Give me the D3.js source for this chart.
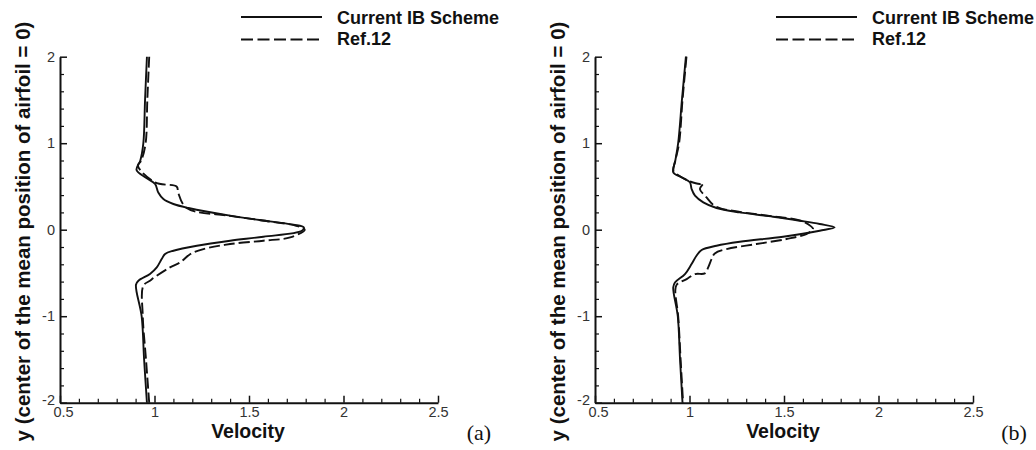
<!DOCTYPE html>
<html>
<head>
<meta charset="utf-8">
<script src="https://cdn.jsdelivr.net/npm/d3@7/dist/d3.min.js"></script>
<style>
  html, body { margin: 0; padding: 0; background: #fff; }
  svg { display: block; }
</style>
</head>
<body>
<svg id="chart" width="1036" height="450"></svg>
<script>
// Velocity profiles across the wake, two instants (a) and (b).
// Each point is [velocity, y].
const currentA = [
  [0.960, 2.00], [0.950, 1.50], [0.941, 1.00], [0.925, 0.80], [0.905, 0.69],
  [0.955, 0.60], [1.003, 0.53], [1.020, 0.43], [1.047, 0.355], [1.100, 0.297],
  [1.180, 0.251], [1.400, 0.162], [1.610, 0.096], [1.735, 0.058], [1.790, 0.027],
  [1.780, -0.012], [1.576, -0.081], [1.400, -0.127], [1.224, -0.185], [1.100, -0.243],
  [1.056, -0.281], [1.038, -0.339], [1.012, -0.436], [0.976, -0.512], [0.915, -0.590],
  [0.902, -0.636], [0.932, -1.00], [0.945, -1.50], [0.960, -2.00]
];
const refA = [
  [0.972, 2.00], [0.962, 1.50], [0.953, 1.00], [0.930, 0.80], [0.912, 0.74],
  [1.003, 0.547], [1.118, 0.497], [1.125, 0.430], [1.170, 0.250], [1.400, 0.160],
  [1.610, 0.095], [1.750, 0.045], [1.795, 0.000], [1.718, -0.089], [1.576, -0.127],
  [1.400, -0.166], [1.259, -0.224], [1.190, -0.281], [1.136, -0.378], [1.082, -0.436],
  [1.000, -0.550], [0.976, -0.590], [0.941, -0.647], [0.938, -1.00], [0.955, -1.50],
  [0.972, -2.00]
];
const currentB = [
  [0.981, 2.00], [0.960, 1.50], [0.940, 1.00], [0.925, 0.80], [0.914, 0.663],
  [0.958, 0.606], [1.002, 0.548], [1.011, 0.471], [1.029, 0.393], [1.073, 0.316],
  [1.143, 0.251], [1.266, 0.200], [1.442, 0.150], [1.583, 0.104], [1.689, 0.066],
  [1.768, 0.027], [1.689, -0.012], [1.495, -0.081], [1.266, -0.139], [1.143, -0.185],
  [1.064, -0.235], [1.037, -0.301], [1.011, -0.397], [0.976, -0.513], [0.923, -0.611],
  [0.914, -0.667], [0.938, -1.00], [0.950, -1.50], [0.963, -2.00]
];
const refB = [
  [0.984, 2.00], [0.963, 1.50], [0.945, 1.00], [0.925, 0.80], [0.915, 0.680],
  [0.932, 0.644], [0.993, 0.567], [1.055, 0.528], [1.073, 0.536], [1.055, 0.471],
  [1.090, 0.374], [1.125, 0.289], [1.160, 0.250], [1.266, 0.205], [1.442, 0.155],
  [1.583, 0.108], [1.630, 0.060], [1.654, 0.008], [1.618, -0.050], [1.513, -0.108],
  [1.354, -0.166], [1.196, -0.224], [1.134, -0.274], [1.117, -0.339], [1.099, -0.436],
  [1.081, -0.505], [1.029, -0.513], [0.985, -0.571], [0.932, -0.636], [0.925, -0.700],
  [0.940, -1.00], [0.953, -1.50], [0.966, -2.00]
];

const xMajorTicks = [0.5, 1, 1.5, 2, 2.5];
const yMajorTicks = [-2, -1, 0, 1, 2];
const seriesNames = ["Current IB Scheme", "Ref.12"];
const panelLabels = ["(a)", "(b)"];
const xTitle = "Velocity";
const yTitle = "y (center of the mean position of airfoil = 0)";

const svg = d3.select("#chart");
const ink = "#111";
const sans = "'Liberation Sans', Arial, sans-serif";
const dashPattern = "11,4";

function drawPanel(dx, solid, dashed, tag) {
  const g = svg.append("g").attr("transform", `translate(${dx},0)`);
  const x = d3.scaleLinear().domain([0.5, 2.5]).range([60, 438]);
  const y = d3.scaleLinear().domain([-2, 2]).range([402.7, 56.7]);

  // minor ticks (0.1 on x, 0.2 on y)
  const xMinor = d3.range(0.6, 2.45, 0.1).filter(v => Math.abs(v * 2 - Math.round(v * 2)) > 1e-6);
  const yMinor = d3.range(-1.8, 1.85, 0.2).filter(v => Math.abs(v - Math.round(v)) > 1e-6);

  g.append("g").attr("transform", `translate(0,${y(-2)})`)
    .call(d3.axisBottom(x).tickValues(xMinor).tickSize(-4).tickFormat(""))
    .call(a => a.select(".domain").remove())
    .selectAll("line").attr("stroke", ink).attr("stroke-width", 1.2);
  g.append("g").attr("transform", `translate(${x(0.5)},0)`)
    .call(d3.axisLeft(y).tickValues(yMinor).tickSize(-4).tickFormat(""))
    .call(a => a.select(".domain").remove())
    .selectAll("line").attr("stroke", ink).attr("stroke-width", 1.2);

  const xa = g.append("g").attr("transform", `translate(0,${y(-2)})`)
    .call(d3.axisBottom(x).tickValues(xMajorTicks).tickSizeInner(-7).tickSizeOuter(0)
      .tickPadding(4).tickFormat(d3.format("")));
  const ya = g.append("g").attr("transform", `translate(${x(0.5)},0)`)
    .call(d3.axisLeft(y).tickValues(yMajorTicks).tickSizeInner(-7).tickSizeOuter(0)
      .tickPadding(5).tickFormat(d => d < 0 ? "-" + Math.abs(d) : String(d)));
  [xa, ya].forEach(a => {
    a.attr("font-family", sans).attr("font-size", 14.5);
    a.select(".domain").attr("stroke", ink).attr("stroke-width", 2);
    a.selectAll(".tick line").attr("stroke", ink).attr("stroke-width", 1.5);
    a.selectAll(".tick text").attr("fill", "#333")
      .attr("font-family", sans).attr("font-size", 14.5);
  });
  // the corner labels sit close together; nudge them apart a little
  xa.selectAll(".tick text").filter(d => d === 0.5).attr("dx", 3);
  ya.selectAll(".tick text").filter(d => d === -2).attr("dy", "0.1em");

  const line = d3.line()
    .x(d => x(d[0])).y(d => y(d[1]))
    .curve(d3.curveCatmullRom.alpha(0.5));

  g.append("path").datum(dashed).attr("d", line)
    .attr("fill", "none").attr("stroke", ink).attr("stroke-width", 1.9)
    .attr("stroke-dasharray", dashPattern);
  g.append("path").datum(solid).attr("d", line)
    .attr("fill", "none").attr("stroke", ink).attr("stroke-width", 1.9);

  // legend
  const lg = g.append("g");
  lg.append("line").attr("x1", 241).attr("x2", 322).attr("y1", 17).attr("y2", 17)
    .attr("stroke", ink).attr("stroke-width", 1.9);
  lg.append("line").attr("x1", 241).attr("x2", 322).attr("y1", 39.5).attr("y2", 39.5)
    .attr("stroke", ink).attr("stroke-width", 1.9).attr("stroke-dasharray", "12,4.5");
  lg.selectAll("text.lg").data(seriesNames).join("text")
    .attr("x", 337).attr("y", (d, i) => 23.5 + i * 21.5)
    .attr("font-family", sans)
    .attr("font-weight", "bold").attr("font-size", 18).attr("fill", ink)
    .text(d => d);

  // axis titles
  g.append("text").attr("x", 248).attr("y", 437.5).attr("text-anchor", "middle")
    .attr("font-family", sans)
    .attr("font-weight", "bold").attr("font-size", 19.5).attr("fill", ink)
    .text(xTitle);
  g.append("text").attr("transform", "translate(30,231.5) rotate(-90)")
    .attr("text-anchor", "middle")
    .attr("font-family", sans)
    .attr("font-weight", "bold").attr("font-size", 20.5).attr("fill", ink)
    .text(yTitle);

  g.append("text").attr("x", 479).attr("y", 440).attr("text-anchor", "middle")
    .attr("font-family", "'Liberation Serif', 'Times New Roman', serif")
    .attr("font-size", 22).attr("fill", ink)
    .text(tag);
}

drawPanel(0, currentA, refA, panelLabels[0]);
drawPanel(535, currentB, refB, panelLabels[1]);
</script>
</body>
</html>
